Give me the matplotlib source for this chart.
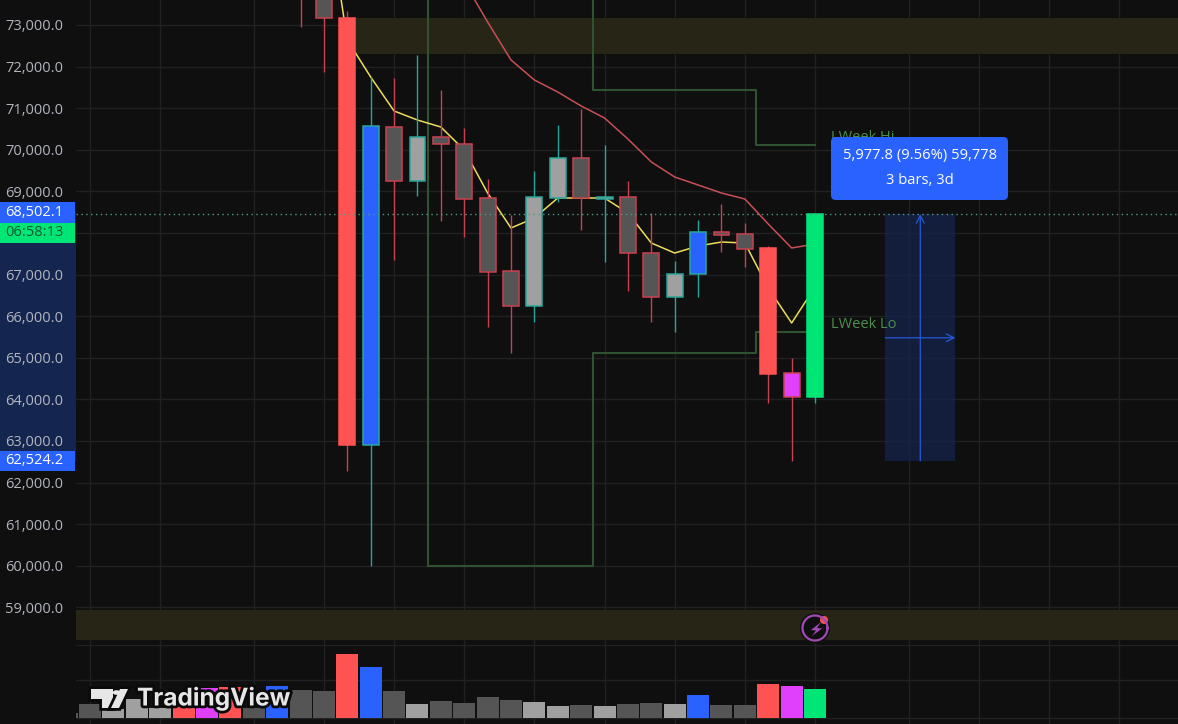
import numpy as np
from matplotlib import pyplot as plt
from matplotlib.patches import Rectangle, FancyBboxPatch, Polygon, Circle
import matplotlib.patheffects as pe

W, H = 1178, 724
BG = '#0f0f0f'
RED = '#ff5252'
BLUE = '#2962ff'
MAGENTA = '#e040fb'
GREEN = '#00e676'
DARK = '#555555'
GRAY = '#a0a0a0'

# daily candles, bar index 9 to 31
candle_idx = list(range(9, 32))
opens = [75200, 74000, 73161, 62903, 70555, 69257, 70315, 70132, 68834, 67079, 66252, 68848, 69810, 68820, 68872, 67512, 66454, 67007, 68016, 67968, 67632, 64627, 64050]
closes = [74000, 73161, 62903, 70572, 69257, 70315, 70132, 68824, 67069, 66252, 68858, 69810, 68834, 68860, 67512, 66454, 67007, 68016, 67959, 67622, 64617, 64050, 68456]
highs = [75600, 74500, 73337, 71750, 71726, 72279, 71437, 70531, 69298, 68432, 69490, 70596, 70973, 70115, 69250, 68480, 67327, 68312, 68697, 68247, 67687, 64995, 68456]
lows = [72960, 71877, 62278, 59994, 67351, 68889, 68295, 67911, 65747, 65122, 65867, 68752, 68072, 67310, 66613, 65867, 65627, 66468, 67550, 67190, 63913, 62524, 63920]
body_colors = [DARK, DARK, RED, BLUE, DARK, GRAY, DARK, DARK, DARK, DARK, GRAY, GRAY, DARK, GRAY, DARK, DARK, GRAY, BLUE, DARK, DARK, RED, MAGENTA, GREEN]

# moving averages
ma_yellow_idx = list(range(10, 32))
ma_yellow = [76318, 72639, 71750, 70933, 70716, 70548, 69995, 68961, 68120, 68360, 68841, 68841, 68841, 68480, 67759, 67518, 67687, 67783, 67759, 66677, 65836, 66701]
ma_red_idx = list(range(16, 32))
ma_red = [74034, 73072, 72159, 71678, 71389, 71053, 70764, 70259, 69707, 69346, 69154, 68961, 68817, 68216, 67639, 67735]

# last week high / low steps
week_edges = [14.45, 21.5, 28.47, 31]
week_hi = [75000, 71437, 70115, 70115]
week_lo = [59994, 65115, 65620, 65620]

# demand / supply zones
zone_top = [73161, 72303]
zone_bottom = [58937, 58215]

# volume pane, bar index -1 to 31
volume_idx = list(range(-1, 32))
volumes = [5, 14, 9, 19, 10, 12, 30, 31, 10, 32, 28, 27, 64, 51, 27, 14, 17, 15, 21, 18, 16, 12, 13, 12, 14, 15, 14, 23, 13, 13, 34, 32, 29]
volume_colors = [DARK, DARK, GRAY, GRAY, GRAY, RED, MAGENTA, RED, DARK, BLUE, DARK, DARK, RED, BLUE, DARK, GRAY, DARK, DARK, DARK, DARK, GRAY, GRAY, DARK, GRAY, DARK, DARK, GRAY, BLUE, DARK, DARK, RED, MAGENTA, GREEN]

price_ticks = list(range(59000, 74000, 1000))
time_ticks = [0, 3, 7, 10, 13, 16, 19, 22, 25, 28, 31, 35, 38, 41, 44]

last_price = 68456
target_low = 62524
target_mid = 65480
target_from = 34
target_to = 37

plt.rcParams['font.family'] = ['Open Sans', 'DejaVu Sans']

fig = plt.figure(figsize=(W / 100, H / 100), dpi=100, facecolor=BG)
ax = fig.add_axes([76 / W, 79 / H, 1 - 76 / W, 1 - 79 / H], facecolor=BG)
vax = fig.add_axes([76 / W, 0, 1 - 76 / W, 79 / H], facecolor=BG)

xlim = (-0.6, 46.52)
ax.set_xlim(xlim)
ax.set_ylim(58095, 73601)
vax.set_xlim(xlim)
vax.set_ylim(-6, 73)

for a in (ax, vax):
    for s in a.spines.values():
        s.set_visible(False)
    a.set_axisbelow(True)
    a.set_xticks(time_ticks)
    a.set_xticklabels([])
    a.grid(True, color='#212121', linewidth=1)
    a.tick_params(length=0)

ax.set_yticks(price_ticks)
# the 68,000 label sits under the countdown badge
ax.set_yticklabels(['' if p == 68000 else f'{p:,.1f}' for p in price_ticks], color='#b2b5be', fontsize=10.5)
ax.tick_params(axis='y', pad=9)
vax.set_yticks([0, 38, 73])
vax.set_yticklabels([])

# zones
ax.axhspan(zone_top[1], zone_top[0], xmin=(11 - xlim[0]) / (xlim[1] - xlim[0]), color='#272516', lw=0, zorder=1)
ax.axhspan(zone_bottom[1], zone_bottom[0], color='#272516', lw=0, zorder=1)

# left scale highlight of the measured range
ax.add_patch(Rectangle((0, 1 - 461 / H), 76 / W, 250 / H, transform=fig.transFigure, color='#14264f', lw=0, clip_on=False, zorder=0.3))

# target box
ax.add_patch(Rectangle((target_from, target_low), target_to - target_from, last_price - target_low, color='#142550', alpha=0.7, lw=0, zorder=1.2))
tx = (target_from + target_to) / 2
arrow = dict(arrowstyle='->', color='#2559d8', lw=0.9, shrinkA=0, shrinkB=0, mutation_scale=14)
ax.annotate('', xy=(tx, last_price), xytext=(tx, target_low), arrowprops=arrow, zorder=1.5)
ax.annotate('', xy=(target_to, target_mid), xytext=(target_from, target_mid), arrowprops=arrow, zorder=1.5)

# weekly levels
ax.step(week_edges, week_hi, where='post', color='#2f5230', lw=1.5, zorder=2)
ax.step(week_edges, week_lo, where='post', color='#2f5230', lw=1.5, zorder=2)
ax.plot([week_edges[0], week_edges[0]], [week_lo[0], 75000], color='#2f5230', lw=1.5, zorder=2)
ax.text(31.7, 70115, 'LWeek Hi', color='#4c8f4c', fontsize=10.5, va='bottom', zorder=2)
ax.text(31.7, 65790, 'LWeek Lo', color='#4c8f4c', fontsize=10.5, va='center', zorder=2)

# moving averages
ax.plot(ma_red_idx, ma_red, color='#c94f55', lw=1.1, zorder=2.2)
ax.plot(ma_yellow_idx, ma_yellow, color='#ecdc5a', lw=1.1, zorder=2.2)

# candles
for i, o, c, hi, lo, col in zip(candle_idx, opens, closes, highs, lows, body_colors):
    edge = '#26a69a' if c > o else '#c9404f'
    ax.vlines(i, lo, hi, color=edge, lw=1, zorder=3)
    line = col if col in (RED, GREEN) else edge
    ax.bar(i, abs(c - o), width=0.68, bottom=min(o, c), color=col, edgecolor=line, linewidth=1.1, zorder=3.2)

ax.axhline(last_price, color='#4f9a84', lw=1, ls=(0, (1, 2.5)), zorder=4)

# volume
vax.bar(volume_idx, volumes, width=0.94, color=volume_colors, zorder=2)


def px_rect(x0, y0, x1, y1, color):
    fig.add_artist(Rectangle((x0 / W, 1 - y1 / H), (x1 - x0) / W, (y1 - y0) / H, transform=fig.transFigure, color=color, lw=0))


def px_text(x, y, s, **kw):
    return fig.text(x / W, 1 - y / H, s, va='center', **kw)


# scale badges
px_rect(0, 202, 75, 223, BLUE)
px_rect(0, 223, 75, 243, GREEN)
px_rect(0, 451, 75, 471, BLUE)
px_text(5, 212, '68,502.1', color='white', fontsize=10.5)
px_text(5, 232, '06:58:13', color='#0a5a30', fontsize=10.5)
px_text(5, 461, '62,524.2', color='white', fontsize=10.5)

# measure label
fig.add_artist(FancyBboxPatch((835 / W, 1 - 196 / H), 169 / W, 55 / H, boxstyle='round,pad=0.0034,rounding_size=0.004', transform=fig.transFigure, color=BLUE, lw=0, mutation_aspect=W / H))
px_text(920, 156, '5,977.8 (9.56%) 59,778', color='white', fontsize=10.6, ha='center')
px_text(920, 181, '3 bars, 3d', color='white', fontsize=10.6, ha='center')

# logo
logo_halo = [pe.withStroke(linewidth=4, foreground='#0a0a0a')]
logo = [
    [(91, 689), (113, 689), (113, 708), (102, 708), (102, 699), (91, 699)],
    [(120, 689), (128, 689), (119, 708), (111, 708)],
]
for pts in logo:
    poly = Polygon([(x / W, 1 - y / H) for x, y in pts], closed=True, transform=fig.transFigure, color='#e6e6e6', lw=0, path_effects=logo_halo)
    fig.add_artist(poly)
fig.add_artist(Circle((116.5 / W, 1 - 692.5 / H), 0.0032, transform=fig.transFigure, color='#e6e6e6', lw=0))
px_text(137, 698, 'TradingView', color='#e6e6e6', fontsize=17.6, fontweight='bold', path_effects=logo_halo, family=['Inter', 'DejaVu Sans'])

# events icon
cx, cy = 815, 628
theta = np.linspace(0, 2 * np.pi, 80)
fig.add_artist(Polygon(np.c_[(cx + 15 * np.cos(theta)) / W, 1 - (cy + 15 * np.sin(theta)) / H], closed=True, transform=fig.transFigure, color='#0f0f0f', lw=0))
fig.add_artist(plt.Line2D((cx + 12.5 * np.cos(theta)) / W, 1 - (cy + 12.5 * np.sin(theta)) / H, color='#a349b5', lw=1.6, transform=fig.transFigure))
bolt = [(821, 622), (811, 630), (816, 630.5), (812, 636), (822, 628.5), (817, 628)]
fig.add_artist(Polygon([(x / W, 1 - y / H) for x, y in bolt], closed=True, transform=fig.transFigure, color='#a349b5', lw=0))
fig.add_artist(Polygon(np.c_[(824 + 4 * np.cos(theta)) / W, 1 - (620 + 4 * np.sin(theta)) / H], closed=True, transform=fig.transFigure, color='#ef4f5a', lw=0))

fig.savefig('out.png', dpi=100, facecolor=BG)
